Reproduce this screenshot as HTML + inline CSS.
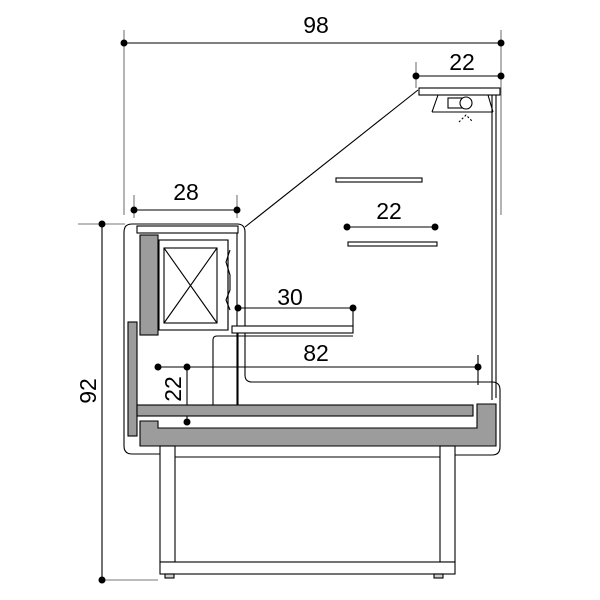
<!DOCTYPE html>
<html><head><style>body{margin:0;background:#fff}svg{display:block}</style></head><body>
<svg width="600" height="600" viewBox="0 0 600 600" xmlns="http://www.w3.org/2000/svg" font-family="Liberation Sans, sans-serif">
<g fill="none" stroke="#000" stroke-width="1.1">
<line x1="124" y1="43" x2="501" y2="43"/>
<line x1="124" y1="30" x2="124" y2="215" stroke="#777"/>
<line x1="501" y1="30" x2="501" y2="215" stroke="#777"/>
<line x1="416" y1="76" x2="501" y2="76"/>
<line x1="416" y1="62" x2="416" y2="88" stroke="#777"/>
<rect x="419" y="88" width="81" height="7"/>
<path d="M432 112 L438 95 M493 112 L488 95 M432 112 H493"/>
<rect x="448" y="98" width="14" height="10"/>
<circle cx="466" cy="103" r="6" fill="#fff"/>
<path d="M459 122 L466 115 L473 122" stroke-dasharray="2 2"/>
<line x1="418" y1="90" x2="245" y2="227"/>
<line x1="492" y1="95" x2="492" y2="400"/>
<line x1="496" y1="95" x2="496" y2="398"/>
<rect x="336" y="178" width="86" height="4"/>
<line x1="347" y1="227" x2="435" y2="227"/>
<rect x="348" y="242" width="89" height="4"/>
<line x1="134" y1="210" x2="237" y2="210"/>
<line x1="134" y1="195" x2="134" y2="218" stroke="#777"/>
<line x1="237" y1="195" x2="237" y2="218" stroke="#777"/>
<line x1="102" y1="224" x2="102" y2="580"/>
<line x1="78" y1="224" x2="125" y2="224" stroke="#777"/>
<line x1="100" y1="580" x2="158" y2="580" stroke="#777"/>
<path d="M160 454 H132 Q124 454 124 446 V232 Q124 224 132 224 H237 Q245 224 245 232 V375 Q245 382 252 382 H492 Q500 382 500 390 V447 Q500 455 492 455 H455"/>
<path d="M237 233 V405"/>
<path d="M228 240 V330 M230 250 L226 262 L230 275 V290 L226 300 L230 310"/>
<rect x="137" y="226" width="101" height="7" fill="#fff"/>
<rect x="159" y="240" width="69" height="90"/>
<rect x="164" y="248" width="53" height="75"/>
<path d="M164 248 L217 323 M217 248 L164 323"/>
<path d="M213 405 V340 Q213 336 217 336 H353"/>
<line x1="238" y1="330" x2="238" y2="405"/>
<rect x="232" y="326" width="121" height="7" fill="#fff"/>
<line x1="238" y1="308" x2="353" y2="308"/>
<line x1="353" y1="308" x2="353" y2="326"/>
<line x1="158" y1="367" x2="478" y2="367"/>
<line x1="478" y1="355" x2="478" y2="385"/>
<line x1="187" y1="367" x2="187" y2="422"/>
<g fill="#9c9c9c">
<rect x="140" y="235" width="18" height="100"/>
<rect x="128" y="322" width="9" height="114"/>
<rect x="137" y="405" width="336" height="11"/>
<path d="M140 421 H158 V428 H477 V404 H496 V446 H140 Z"/>
</g>
<line x1="137" y1="405" x2="473" y2="405"/>
<rect x="160" y="446" width="15" height="116" fill="#fff"/>
<rect x="440" y="446" width="15" height="116" fill="#fff"/>
<line x1="175" y1="457" x2="440" y2="457"/>
<rect x="160" y="562" width="295" height="12" fill="#fff"/>
<rect x="165" y="574" width="9" height="4" fill="#ccc"/>
<rect x="434" y="574" width="9" height="4" fill="#ccc"/>
</g>
<g fill="#000">
<circle cx="124" cy="43" r="3.5"/><circle cx="501" cy="43" r="3.5"/>
<circle cx="416" cy="76" r="3.5"/><circle cx="501" cy="76" r="3.5"/>
<circle cx="134" cy="210" r="3.5"/><circle cx="237" cy="210" r="3.5"/>
<circle cx="347" cy="227" r="3.5"/><circle cx="435" cy="227" r="3.5"/>
<circle cx="102" cy="224" r="3.5"/><circle cx="102" cy="580" r="3.5"/>
<circle cx="238" cy="308" r="3.5"/><circle cx="353" cy="308" r="3.5"/>
<circle cx="158" cy="367" r="3.5"/><circle cx="478" cy="367" r="3.5"/>
<circle cx="187" cy="367" r="3.5"/><circle cx="187" cy="422" r="3.5"/>
</g>
<g font-size="23" fill="#000" text-anchor="middle">
<text x="316" y="33">98</text>
<text x="462" y="70">22</text>
<text x="186" y="200">28</text>
<text x="389" y="219">22</text>
<text x="290" y="305">30</text>
<text x="316" y="361">82</text>
<text transform="translate(96,391) rotate(-90)">92</text>
<text transform="translate(181,389) rotate(-90)">22</text>
</g>
</svg>
</body></html>
